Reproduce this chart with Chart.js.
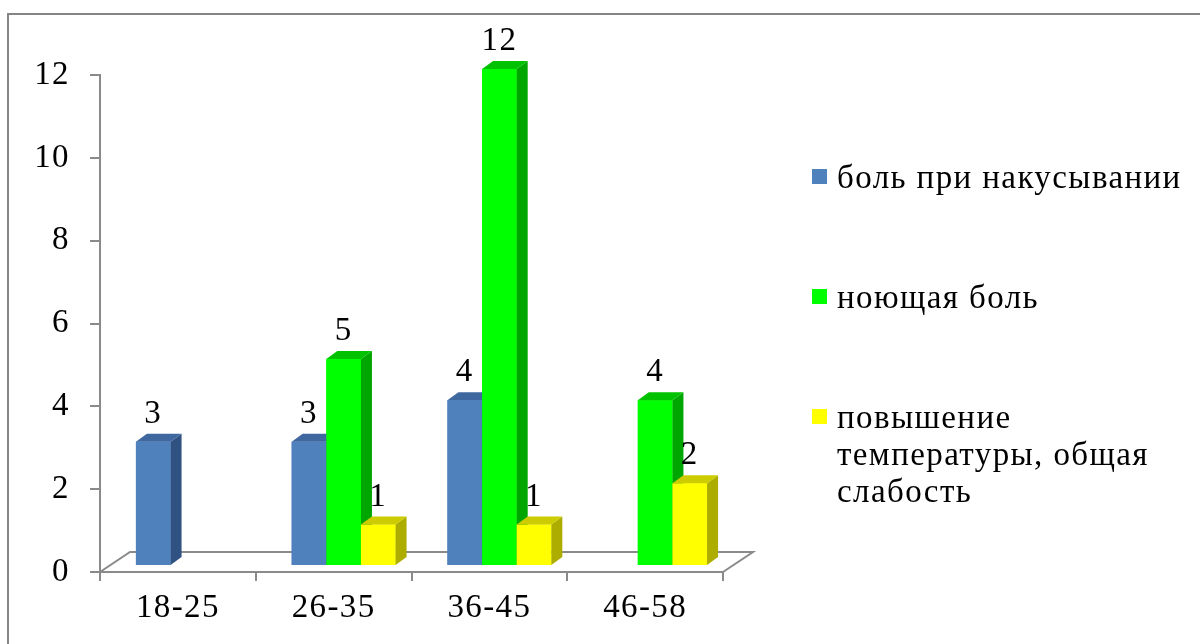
<!DOCTYPE html>
<html>
<head>
<meta charset="utf-8">
<script src="https://cdn.jsdelivr.net/npm/chart.js@4.4.1/dist/chart.umd.min.js"></script>
<style>
  html, body { margin: 0; padding: 0; background: #ffffff; }
  canvas { display: block; }
</style>
</head>
<body>
<canvas id="chart" width="1200" height="644"></canvas>
<script>
// Age groups and complaint counts
const categories = ['18-25', '26-35', '36-45', '46-58'];
const seriesNames = ['боль при накусывании', 'ноющая боль', 'повышение температуры, общая слабость'];
const biteValues = [3, 3, 4, null];
const achingValues = [null, 5, 12, 4];
const feverValues = [null, 1, 1, 2];
const yTickValues = [0, 2, 4, 6, 8, 10, 12];

// Styling
const FONT = '"Liberation Serif", "Times New Roman", serif';
const FONT_SIZE = 33;
const LETTER_SPACING = '1.4px';
const AXIS_GRAY = '#8a8a8a';
const frontColors = ['#4f81bd', '#00ff00', '#ffff00'];
const sideColors = ['#2f5283', '#00a600', '#adad00'];
const topColors = ['#3f67a0', '#00c200', '#cccc00'];
const BAR_DEPTH = { dx: 11, dy: 8 };
const FLOOR_DEPTH = { dx: 30, dy: 20 };
const BAR_SHIFT = { x: 10, y: -6 };

const seriesValues = [biteValues, achingValues, feverValues];

// Outer frame, white background and text spacing
const framePlugin = {
  id: 'frame',
  beforeLayout(chart) {
    chart.ctx.letterSpacing = LETTER_SPACING;
  },
  beforeDraw(chart) {
    const ctx = chart.ctx;
    ctx.letterSpacing = LETTER_SPACING;
    ctx.save();
    ctx.fillStyle = '#ffffff';
    ctx.fillRect(0, 0, chart.width, chart.height);
    ctx.strokeStyle = '#858585';
    ctx.lineWidth = 2;
    ctx.beginPath();
    ctx.moveTo(8, chart.height);
    ctx.lineTo(8, 14);
    ctx.lineTo(chart.width, 14);
    ctx.stroke();
    ctx.restore();
  }
};

// 3D floor, bar side/top faces and value labels
const depthPlugin = {
  id: 'depth',
  beforeDatasetsDraw(chart) {
    const ctx = chart.ctx;
    const { left, right, bottom } = chart.chartArea;
    ctx.save();
    ctx.strokeStyle = AXIS_GRAY;
    ctx.lineWidth = 2;
    ctx.beginPath();
    ctx.moveTo(left, bottom);
    ctx.lineTo(left + FLOOR_DEPTH.dx, bottom - FLOOR_DEPTH.dy);
    ctx.lineTo(right + FLOOR_DEPTH.dx, bottom - FLOOR_DEPTH.dy);
    ctx.lineTo(right, bottom);
    ctx.stroke();
    ctx.restore();
    ctx.save();
    ctx.translate(BAR_SHIFT.x, BAR_SHIFT.y);
  },
  afterDatasetsDraw(chart) {
    const ctx = chart.ctx;
    const n = chart.data.datasets.length;
    for (let d = 0; d < n; d++) {
      const meta = chart.getDatasetMeta(d);
      const values = chart.data.datasets[d].data;
      meta.data.forEach((el, i) => {
        if (values[i] === null || values[i] === undefined) return;
        const p = el.getProps(['x', 'y', 'base', 'width'], true);
        const l = p.x - p.width / 2, r = p.x + p.width / 2;
        el.draw(ctx);
        // side face
        ctx.fillStyle = sideColors[d];
        ctx.beginPath();
        ctx.moveTo(r, p.y);
        ctx.lineTo(r + BAR_DEPTH.dx, p.y - BAR_DEPTH.dy);
        ctx.lineTo(r + BAR_DEPTH.dx, p.base - BAR_DEPTH.dy);
        ctx.lineTo(r, p.base);
        ctx.closePath();
        ctx.fill();
        // top face
        ctx.fillStyle = topColors[d];
        ctx.beginPath();
        ctx.moveTo(l, p.y);
        ctx.lineTo(l + BAR_DEPTH.dx, p.y - BAR_DEPTH.dy);
        ctx.lineTo(r + BAR_DEPTH.dx, p.y - BAR_DEPTH.dy);
        ctx.lineTo(r, p.y);
        ctx.closePath();
        ctx.fill();
      });
    }
    // value labels
    ctx.fillStyle = '#000000';
    ctx.font = FONT_SIZE + 'px ' + FONT;
    ctx.textAlign = 'center';
    ctx.textBaseline = 'alphabetic';
    for (let d = 0; d < n; d++) {
      const meta = chart.getDatasetMeta(d);
      const values = chart.data.datasets[d].data;
      meta.data.forEach((el, i) => {
        if (values[i] === null || values[i] === undefined) return;
        const p = el.getProps(['x', 'y'], true);
        ctx.fillText(String(values[i]), p.x, p.y - 19);
      });
    }
    ctx.restore();
  }
};

// Legend on the right with wrapped labels
function wrapText(ctx, text, maxWidth) {
  const words = text.split(' ');
  const lines = [];
  let line = '';
  words.forEach(w => {
    const test = line ? line + ' ' + w : w;
    if (line && ctx.measureText(test).width > maxWidth) {
      lines.push(line);
      line = w;
    } else {
      line = test;
    }
  });
  if (line) lines.push(line);
  return lines;
}

const legendPlugin = {
  id: 'sideLegend',
  afterDraw(chart) {
    const ctx = chart.ctx;
    const markerX = 812, textX = 837, markerSize = 15;
    const lineGap = 37, itemGap = 120;
    let baseline = 188;
    ctx.save();
    ctx.font = FONT_SIZE + 'px ' + FONT;
    ctx.textAlign = 'left';
    ctx.textBaseline = 'alphabetic';
    chart.data.datasets.forEach((ds) => {
      ctx.fillStyle = ds.backgroundColor;
      ctx.fillRect(markerX, baseline - 19, markerSize, markerSize);
      ctx.fillStyle = '#000000';
      const lines = wrapText(ctx, ds.label, 350);
      lines.forEach((ln, k) => ctx.fillText(ln, textX, baseline + k * lineGap));
      baseline += (lines.length - 1) * lineGap + itemGap;
    });
    ctx.restore();
  }
};

function drawChart() {
  new Chart(document.getElementById('chart'), {
    type: 'bar',
    data: {
      labels: categories,
      datasets: seriesNames.map((name, d) => ({
        label: name,
        data: seriesValues[d],
        backgroundColor: frontColors[d],
        borderWidth: 0,
        categoryPercentage: 0.667,
        barPercentage: 1.0,
        clip: false
      }))
    },
    options: {
      responsive: false,
      animation: false,
      events: [],
      layout: { padding: { top: 75, right: 477, left: 0, bottom: 0 } },
      plugins: {
        legend: { display: false },
        tooltip: { enabled: false }
      },
      scales: {
        x: {
          grid: { offset: true, drawOnChartArea: false, drawTicks: true, tickLength: 9, color: AXIS_GRAY, lineWidth: 2 },
          border: { display: true, color: AXIS_GRAY, width: 2 },
          ticks: { font: { family: FONT, size: FONT_SIZE }, color: '#000000', padding: 8, maxRotation: 0, autoSkip: false },
          afterFit(axis) { axis.height = 72; }
        },
        y: {
          min: 0,
          max: 12,
          grid: { drawOnChartArea: false, drawTicks: true, tickLength: 10, color: AXIS_GRAY, lineWidth: 2 },
          border: { display: true, color: AXIS_GRAY, width: 2 },
          ticks: { font: { family: FONT, size: FONT_SIZE }, color: '#000000', padding: 20 },
          afterBuildTicks(axis) { axis.ticks = yTickValues.map(v => ({ value: v })); },
          afterFit(axis) { axis.width = 100; }
        }
      }
    },
    plugins: [framePlugin, depthPlugin, legendPlugin]
  });
}

if (document.fonts && document.fonts.load) {
  document.fonts.load(FONT_SIZE + 'px "Liberation Serif"', 'боль 0123456789').then(drawChart, drawChart);
} else {
  drawChart();
}
</script>
</body>
</html>
